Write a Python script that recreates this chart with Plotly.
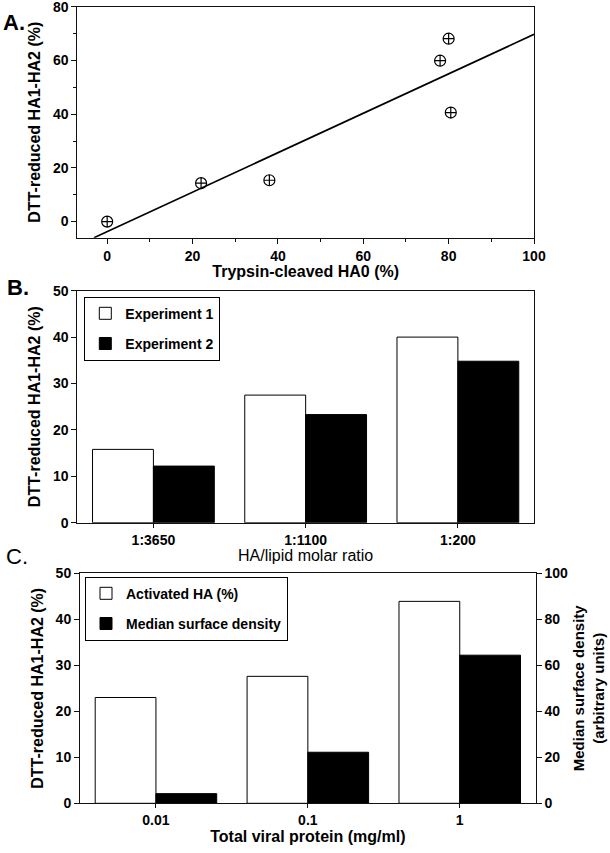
import plotly.graph_objects as go

# ---------------- Data ----------------
# Panel A: scatter + fitted line
cleaved_ha0 = [0, 22, 38, 78, 80, 80.5]
reduced_a = [0, 14.3, 15.4, 59.9, 68.1, 40.6]
fit_x = [-3.1, 100]
fit_y = [-6.0, 69.7]

# Panel B: grouped bars
ratio_labels = ["1:3650", "1:1100", "1:200"]
exp1 = [15.8, 27.5, 40.0]
exp2 = [12.2, 23.3, 34.8]

# Panel C: bars on two y axes
protein_labels = ["0.01", "0.1", "1"]
activated_ha = [23.0, 27.6, 43.9]
surface_density = [4.2, 22.2, 64.4]

# ---------------- Layout helpers ----------------
W, H = 610, 853
FONT = "Liberation Sans, Arial, sans-serif"


def fx(p):
    return p / W


def fy(p):
    return 1 - p / H


tickfont = dict(family=FONT, size=14, color="black", weight=700)
titlefont = dict(family=FONT, size=16, color="black", weight=700)
titlefont_n = dict(family=FONT, size=16, color="black", weight=400)
LINE = "#111"

fig = go.Figure()

# Panel A
fig.add_trace(go.Scatter(x=fit_x, y=fit_y, mode="lines",
                         line=dict(color="black", width=1.7),
                         xaxis="x", yaxis="y", showlegend=False, hoverinfo="skip"))
fig.add_trace(go.Scatter(x=cleaved_ha0, y=reduced_a, mode="markers",
                         marker=dict(symbol="circle-cross-open", size=11,
                                     color="black", line=dict(width=1.2, color="black")),
                         xaxis="x", yaxis="y", showlegend=False))

# Panel B
fig.add_trace(go.Bar(x=ratio_labels, y=exp1, name="Experiment 1",
                     marker=dict(color="white", line=dict(color="black", width=1)),
                     width=0.4, offset=-0.4, xaxis="x2", yaxis="y2",
                     legend="legend", legendgroup="b1"))
fig.add_trace(go.Bar(x=ratio_labels, y=exp2, name="Experiment 2",
                     marker=dict(color="black", line=dict(color="black", width=1)),
                     width=0.4, offset=0.0, xaxis="x2", yaxis="y2",
                     legend="legend", legendgroup="b2"))

# Panel C
fig.add_trace(go.Bar(x=protein_labels, y=activated_ha, name="Activated HA (%)",
                     marker=dict(color="white", line=dict(color="black", width=1)),
                     width=0.4, offset=-0.4, xaxis="x3", yaxis="y3",
                     legend="legend2", legendgroup="c1"))
fig.add_trace(go.Bar(x=protein_labels, y=surface_density, name="Median surface density",
                     marker=dict(color="black", line=dict(color="black", width=1)),
                     width=0.4, offset=0.0, xaxis="x3", yaxis="y4",
                     legend="legend2", legendgroup="c2"))

common = dict(showline=True, linecolor=LINE, linewidth=1, ticks="outside",
              tickcolor=LINE, tickwidth=1, ticklen=5, tickfont=tickfont,
              showgrid=False, zeroline=False, automargin=False,
              ticklabeloverflow="allow")

legend_style = dict(bgcolor="white", bordercolor="black", borderwidth=1,
                    font=dict(family=FONT, size=14, color="black", weight=700),
                    xanchor="left", yanchor="top", traceorder="grouped",
                    tracegroupgap=9, itemclick=False)

fig.update_layout(
    width=W, height=H,
    margin=dict(l=0, r=0, t=0, b=0),
    paper_bgcolor="white", plot_bgcolor="white",
    barmode="group",
    font=dict(family=FONT, color="black"),
    # Panel A axes
    xaxis=dict(domain=[fx(77.3), fx(534)], anchor="y", range=[-7, 100],
               tick0=0, dtick=20, mirror=True,
               minor=dict(dtick=10, ticklen=3, ticks="outside", tickcolor=LINE),
               title=dict(text="Trypsin-cleaved HA0 (%)", font=titlefont, standoff=2),
               **common),
    yaxis=dict(domain=[fy(237.7), fy(6.7)], anchor="x", range=[-6, 80.01],
               tick0=0, dtick=20, mirror=True,
               minor=dict(dtick=10, ticklen=3, ticks="outside", tickcolor=LINE),
               title=dict(text="DTT-reduced HA1-HA2 (%)", font=titlefont, standoff=8),
               **common),
    # Panel B axes
    xaxis2=dict(domain=[fx(77.3), fx(534)], anchor="y2", range=[-0.5, 2.5],
                type="category", mirror=True,
                title=dict(text="HA/lipid molar ratio", font=titlefont_n, standoff=2),
                **{**common, "ticklen": 4}),
    yaxis2=dict(domain=[fy(522.7), fy(290.7)], anchor="x2", range=[0, 50],
                dtick=10, mirror=True,
                title=dict(text="DTT-reduced HA1-HA2 (%)", font=titlefont, standoff=8),
                **common),
    # Panel C axes
    xaxis3=dict(domain=[fx(80), fx(535.7)], anchor="y3", range=[-0.5, 2.5],
                type="category", mirror=True,
                title=dict(text="Total viral protein (mg/ml)", font=titlefont, standoff=2),
                **{**common, "ticklen": 4}),
    yaxis3=dict(domain=[fy(803.3), fy(573.3)], anchor="x3", range=[0, 50],
                dtick=10,
                title=dict(text="DTT-reduced HA1-HA2 (%)", font=titlefont, standoff=8),
                **common),
    yaxis4=dict(anchor="x3", overlaying="y3", side="right", range=[0, 100],
                dtick=20,
                title=dict(text="Median surface density<br>(arbitrary units)",
                           font={**titlefont, "size": 15}, standoff=6),
                **common),
    legend=dict(x=fx(84.3), y=fy(296.7), **legend_style),
    legend2=dict(x=fx(85), y=fy(576.7), **legend_style),
    annotations=[
        dict(text="A.", x=fx(1), y=fy(23), xref="paper", yref="paper",
             xanchor="left", yanchor="middle", showarrow=False,
             font=dict(family=FONT, size=22, color="black", weight=700)),
        dict(text="B.", x=fx(5), y=fy(287), xref="paper", yref="paper",
             xanchor="left", yanchor="middle", showarrow=False,
             font=dict(family=FONT, size=22, color="black", weight=700)),
        dict(text="C.", x=fx(4), y=fy(556), xref="paper", yref="paper",
             xanchor="left", yanchor="middle", showarrow=False,
             font=dict(family=FONT, size=22, color="black", weight=400)),
    ],
)

# Remove the browser's default 8px body margin so the figure fills the window.
fig.write_html("out.html",
               config={"displayModeBar": False},
               post_script="document.body.style.margin='0';document.body.style.overflow='hidden';")
